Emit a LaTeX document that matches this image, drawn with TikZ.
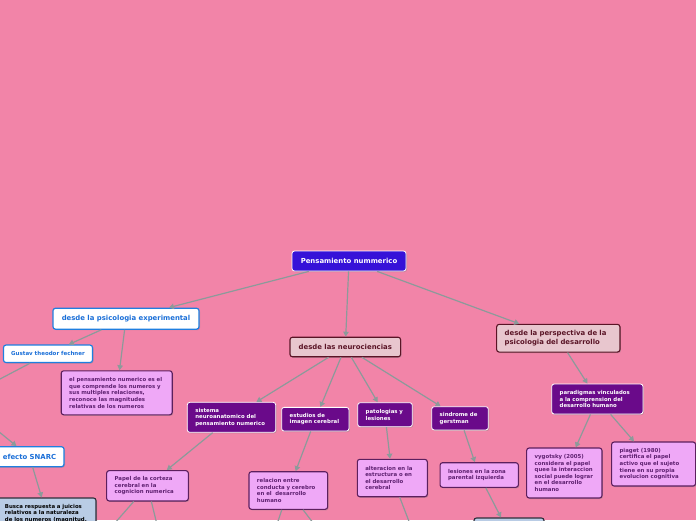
\documentclass[tikz,border=0pt]{standalone}
\usepackage{fontspec}
\setmainfont{DejaVu Sans}
\usetikzlibrary{arrows.meta,shadows}
\definecolor{bgpink}{HTML}{F284A8}
\definecolor{rootblue}{HTML}{3612D8}
\definecolor{linkblue}{HTML}{1F7FE0}
\definecolor{txtblue}{HTML}{1A6FD8}
\definecolor{lilac}{HTML}{EFA8F7}
\definecolor{lilacedge}{HTML}{5C1F5E}
\definecolor{lilactext}{HTML}{5E2070}
\definecolor{deeppurple}{HTML}{6A0A8A}
\definecolor{paleros}{HTML}{E8C6CE}
\definecolor{maroonc}{HTML}{5A1426}
\definecolor{paleblue}{HTML}{B9CCE5}
\definecolor{darkedge}{HTML}{2E2E3A}
\definecolor{connector}{HTML}{8C9A9A}
\begin{document}
\begin{tikzpicture}[x=1pt,y=-1pt,
  base/.style={rectangle, rounded corners=2.5pt, inner sep=0pt, align=left,
    drop shadow={shadow xshift=1pt,shadow yshift=-1pt,opacity=0.4}},
  bigtxt/.style={font=\fontsize{6.9}{8.4}\selectfont\bfseries},
  smalltxt/.style={font=\fontsize{5.4}{6.6}\selectfont\bfseries},
  rootbox/.style={base, fill=rootblue, draw=white, line width=0.8pt, text=white, bigtxt, align=center},
  bluebox/.style={base, fill=white, draw=linkblue, line width=1.2pt, text=txtblue, align=center},
  lilacbox/.style={base, fill=lilac, draw=lilacedge, line width=1.1pt, text=lilactext, smalltxt},
  purplebox/.style={base, fill=deeppurple, draw=white, line width=0.8pt, text=white, smalltxt},
  rosebox/.style={base, fill=paleros, draw=maroonc, line width=1.1pt, text=maroonc, bigtxt},
  greybluebox/.style={base, fill=paleblue, draw=darkedge, line width=1.1pt, text=black, smalltxt},
  conn/.style={draw=connector, line width=1.2pt, -{Triangle[length=5pt,width=5.5pt]}},
  connplain/.style={draw=connector, line width=1.2pt}
]
\useasboundingbox (0,0) rectangle (696,520);
\clip (0,0) rectangle (696,520);
\fill[bgpink] (0,0) rectangle (696,520);

% root
\node[rootbox, minimum width=114pt, minimum height=20pt] (root) at (349,261) {Pensamiento nummerico};

% left branch
\node[bluebox, bigtxt, minimum width=146pt, minimum height=21pt] (psicexp) at (126,318.7) {desde la psicologia experimental};
\node[bluebox, font=\fontsize{5.5}{6.6}\selectfont\bfseries, minimum width=89pt, minimum height=17.5pt] (gustav) at (48,353.8) {Gustav theodor fechner};
\node[lilacbox, minimum width=111pt, minimum height=44pt, text width=95pt] (pensnum) at (116.7,392.8)
  {el pensamiento numerico es el\\que comprende los numeros y\\sus multiples relaciones,\\reconoce las magnitudes\\relativas de los numeros};
\node[bluebox, bigtxt, minimum width=69pt, minimum height=20pt] (snarc) at (29.5,456.7) {efecto SNARC};
\node[greybluebox, minimum width=99pt, minimum height=31pt, text width=83pt] (busca) at (46.5,513.5)
  {Busca respuesta a juicios\\relativos a la naturaleza\\de los numeros (magnitud,};
\coordinate (hubleft) at (-40,400);

% middle branch
\node[rosebox, minimum width=110.7pt, minimum height=19.5pt, align=center] (neuro) at (345.3,347) {desde las neurociencias};
\node[purplebox, minimum width=88.4pt, minimum height=30pt, text width=72.4pt] (sistema) at (231.5,417.3)
  {sistema\\neuroanatomico del\\pensamiento numerico};
\node[purplebox, minimum width=67.3pt, minimum height=23.7pt, text width=51.3pt] (estudios) at (315.3,419.2)
  {estudios de\\imagen cerebral};
\node[purplebox, minimum width=54.6pt, minimum height=24pt, text width=38.6pt] (patol) at (385,414.7)
  {patologias y\\lesiones};
\node[purplebox, minimum width=56.6pt, minimum height=23.3pt, text width=40.6pt] (sindrome) at (460,418.3)
  {sindrome de\\gerstman};
\node[lilacbox, minimum width=81.7pt, minimum height=30.3pt, text width=65.7pt] (papel) at (147.5,485.8)
  {Papel de la corteza\\cerebral en la\\cognicion numerica};
\node[lilacbox, minimum width=78.7pt, minimum height=37.6pt, text width=62.7pt] (relacion) at (288.3,490.5)
  {relacion entre\\conducta y cerebro\\en el\ \ desarrollo\\humano};
\node[lilacbox, minimum width=70pt, minimum height=37.4pt, text width=54pt] (alter) at (392.3,478)
  {alteracion en la\\estructura o en\\el desarrollo\\cerebral};
\node[lilacbox, minimum width=78.3pt, minimum height=24.6pt, text width=62.3pt] (lesiones) at (479.2,475)
  {lesiones en la zona\\parental izquierda};
\node[greybluebox, minimum width=70pt, minimum height=30pt] (bottomnode) at (509,533) {};
\coordinate (papelA) at (100,540);
\coordinate (papelB) at (162,545);
\coordinate (relA) at (270,545);
\coordinate (relB) at (330,545);
\coordinate (alterA) at (420,550);

% right branch
\node[rosebox, minimum width=123.3pt, minimum height=27.7pt, text width=107.3pt] (perspectiva) at (558.3,338.2)
  {desde la perspectiva de la\\psicologia del desarrollo};
\node[purplebox, minimum width=91.3pt, minimum height=30pt, text width=75.3pt] (paradigmas) at (597.3,399)
  {paradigmas vinculados\\a la comprension del\\desarrollo humano};
\node[lilacbox, minimum width=75.3pt, minimum height=50pt, text width=59.3pt] (vygotsky) at (564.3,473)
  {vygotsky (2005)\\considera el papel\\quee la interaccion\\social puede lograr\\en el desarrollo\\humano};
\node[lilacbox, minimum width=84pt, minimum height=44pt, text width=68pt] (piaget) at (653.6,464)
  {piaget (1980)\\certifica el papel\\activo que el sujeto\\tiene en su propia\\evolucion cognitiva};

% connectors
\draw[conn] (root) -- (psicexp);
\draw[conn] (root) -- (neuro);
\draw[conn] (root) -- (perspectiva);
\draw[conn] (psicexp) -- (gustav);
\draw[conn] (psicexp) -- (pensnum);
\draw[connplain] (gustav) -- (hubleft);
\draw[conn] (hubleft) -- (snarc);
\draw[conn] (snarc) -- (busca);
\draw[conn] (neuro) -- (sistema);
\draw[conn] (neuro) -- (estudios);
\draw[conn] (neuro) -- (patol);
\draw[conn] (neuro) -- (sindrome);
\draw[conn] (sistema) -- (papel);
\draw[conn] (estudios) -- (relacion);
\draw[conn] (patol) -- (alter);
\draw[conn] (sindrome) -- (lesiones);
\draw[conn] (lesiones) -- (bottomnode);
\draw[connplain] (papel) -- (papelA);
\draw[connplain] (papel) -- (papelB);
\draw[connplain] (relacion) -- (relA);
\draw[connplain] (relacion) -- (relB);
\draw[connplain] (alter) -- (alterA);
\draw[conn] (perspectiva) -- (paradigmas);
\draw[conn] (paradigmas) -- (vygotsky);
\draw[conn] (paradigmas) -- (piaget);
\end{tikzpicture}
\end{document}
